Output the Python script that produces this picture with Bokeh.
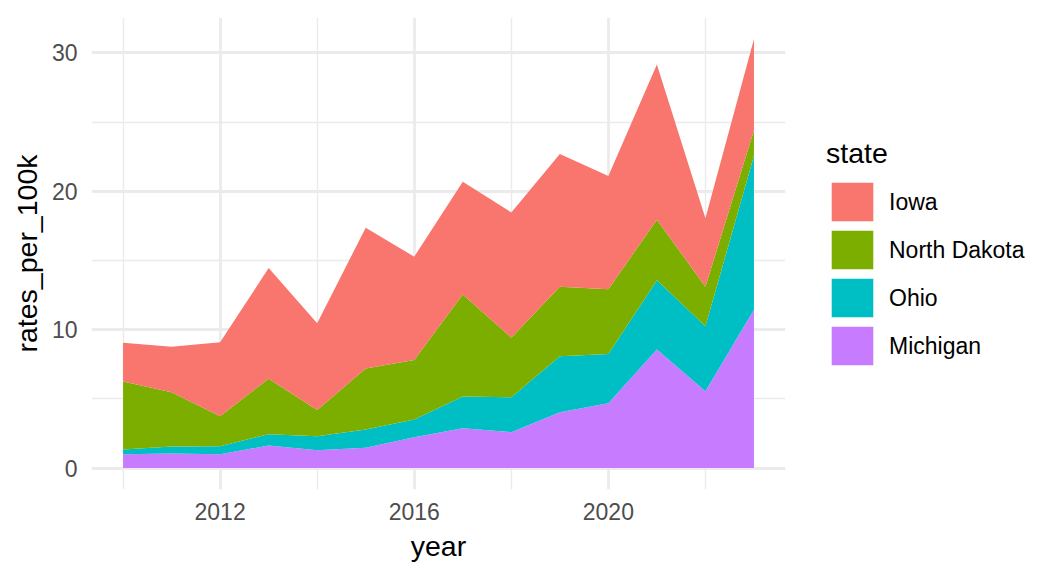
from bokeh.plotting import figure
from bokeh.models import ColumnDataSource, Range1d, FixedTicker, Legend, LegendItem
from bokeh.embed import file_html
from bokeh.resources import INLINE

# ---- data ----
years = list(range(2010, 2024))
iowa = [2.81, 3.30, 5.34, 7.99, 6.26, 10.16, 7.46, 8.16, 9.05, 9.59, 8.19, 11.22, 4.94, 6.60]
north_dakota = [4.91, 3.92, 2.16, 4.02, 1.90, 4.42, 4.31, 7.37, 4.31, 5.03, 4.67, 4.38, 2.86, 1.84]
ohio = [0.34, 0.50, 0.58, 0.82, 1.01, 1.32, 1.27, 2.28, 2.52, 4.04, 3.56, 5.00, 4.69, 11.12]
michigan = [1.00, 1.05, 1.00, 1.62, 1.29, 1.46, 2.23, 2.88, 2.59, 4.03, 4.68, 8.56, 5.55, 11.44]

states = ["Iowa", "North Dakota", "Ohio", "Michigan"]          # legend order (top of stack first)
colors = ["#F8766D", "#7CAE00", "#00BFC4", "#C77CFF"]

x_major = [2012, 2016, 2020]
x_minor = [2010, 2014, 2018, 2022]
y_major = [0, 10, 20, 30]
y_minor = [5, 15, 25]

FONT = "Liberation Sans"

source = ColumnDataSource(dict(year=years, Iowa=iowa, **{"North Dakota": north_dakota},
                               Ohio=ohio, Michigan=michigan))

totals = [a + b + c + d for a, b, c, d in zip(iowa, north_dakota, ohio, michigan)]
xspan = max(years) - min(years)
ymax = max(totals)

p = figure(
    width=1056, height=576,
    frame_width=694, frame_height=472,
    min_border_left=91, min_border_top=17, min_border_right=271, min_border_bottom=87,
    x_range=Range1d(min(years) - 0.05 * xspan, max(years) + 0.05 * xspan),
    y_range=Range1d(0 - 0.05 * ymax, ymax + 0.05 * ymax),
    output_backend="svg", toolbar_location=None,
    background_fill_color="white", border_fill_color="white",
)
p.outline_line_color = None

stackers = states[::-1]  # bottom -> top
stack_colors = colors[::-1]
renderers = p.varea_stack(stackers=stackers, x="year", color=stack_colors, source=source)
rmap = dict(zip(stackers, renderers))

# axes
p.xaxis.ticker = FixedTicker(ticks=x_major, minor_ticks=x_minor)
p.yaxis.ticker = FixedTicker(ticks=y_major, minor_ticks=y_minor)
p.xaxis.axis_label = "year"
p.yaxis.axis_label = "rates_per_100k"
for ax in (p.xaxis[0], p.yaxis[0]):
    ax.axis_line_color = None
    ax.major_tick_line_color = None
    ax.minor_tick_line_color = None
    ax.major_tick_out = 0
    ax.major_tick_in = 0
    ax.minor_tick_out = 0
    ax.major_label_text_font = FONT
    ax.major_label_text_font_size = "23px"
    ax.major_label_text_color = "#4D4D4D"
    ax.axis_label_text_font = FONT
    ax.axis_label_text_font_size = "28.5px"
    ax.axis_label_text_font_style = "normal"
    ax.axis_label_text_color = "black"
p.xaxis.major_label_standoff = 13
p.xaxis.axis_label_standoff = 7
p.yaxis.major_label_standoff = 14
p.yaxis.axis_label_standoff = 6

# grids
for g in (p.xgrid[0], p.ygrid[0]):
    g.grid_line_color = "#EBEBEB"
    g.grid_line_width = 2.8
    g.minor_grid_line_color = "#EBEBEB"
    g.minor_grid_line_width = 1.4

# legend (area legend glyphs are drawn inset by 10% of the box on each side)
items = [LegendItem(label=s, renderers=[rmap[s]]) for s in states]
legend = Legend(items=items, location="left", title="state")
legend.title_text_font = FONT
legend.title_text_font_size = "28.5px"
legend.title_text_font_style = "normal"
legend.title_text_color = "black"
legend.title_standoff = 8
legend.label_text_font = FONT
legend.label_text_font_size = "23px"
legend.label_text_color = "black"
legend.glyph_width = 52
legend.glyph_height = 48
legend.label_height = 48
legend.spacing = 0
legend.label_standoff = 11
legend.padding = 0
legend.margin = 41
legend.border_line_color = None
legend.background_fill_alpha = 0
p.add_layout(legend, "right")

open("out.html", "w").write(file_html(p, INLINE))
